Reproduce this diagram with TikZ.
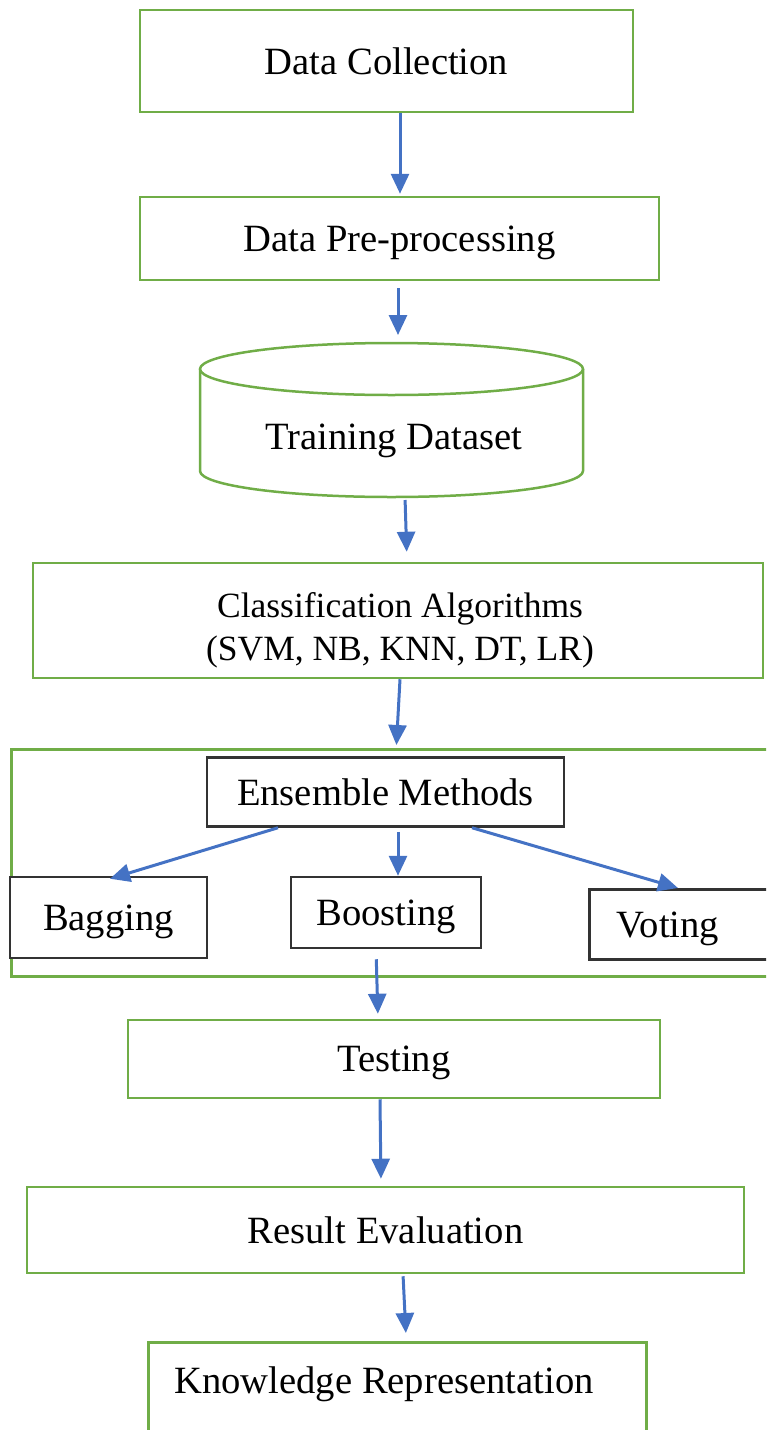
\documentclass[tikz,border=0pt]{standalone}
\usepackage{fontspec}
\setmainfont{Liberation Serif}
\usetikzlibrary{arrows.meta}
\definecolor{boxgreen}{HTML}{70AD47}
\definecolor{arrowblue}{HTML}{4472C4}
\begin{document}
\begin{tikzpicture}[x=1pt,y=-1pt,
  txt/.style={font=\fontsize{38.6}{46}\selectfont, inner sep=0pt, text depth=0pt},
  greenbox/.style={txt, draw=boxgreen, line width=2.5pt, fill=white},
  blackbox/.style={txt, draw=black!80, line width=2.5pt, fill=white},
  arr/.style={draw=arrowblue, line width=3pt, -{Triangle[length=20pt,width=18pt]}}]
\useasboundingbox (0,0) rectangle (766,1430);
\clip (0,0) rectangle (766,1430);

% main pipeline
\node[greenbox, minimum width=493pt, minimum height=102pt] (dc) at (386.5,61) {Data Collection};
\node[greenbox, minimum width=519pt, minimum height=83pt] (pre) at (399.5,238.5) {Data Pre-processing};

% training dataset drawn as a cylinder
\draw[boxgreen, line width=2.5pt, fill=white]
  (200,369) -- (200,471) arc[start angle=180, end angle=0, x radius=191.5, y radius=26]
  -- (583,369);
\draw[boxgreen, line width=2.5pt, fill=white] (391.5,369) ellipse[x radius=191.5, y radius=26];
\coordinate (cyltop) at (398,343);
\coordinate (cylbot) at (405,497);
\node[txt] (train) at (394,437) {Training Dataset};

\node[greenbox, minimum width=730pt, minimum height=115pt] (cls) at (398,620.5) {};
\node[txt, align=center, font=\fontsize{35.5}{43}\selectfont] (clstext) at (400,626)
  {Classification Algorithms\\(SVM, NB, KNN, DT, LR)};

% ensemble group
\node[draw=boxgreen, line width=2.5pt, anchor=north west, minimum width=800pt,
      minimum height=227pt, inner sep=0pt] (ens) at (10,748) {};
\node[blackbox, minimum width=357pt, minimum height=69pt] (em) at (385.5,792) {Ensemble Methods};
\node[blackbox, minimum width=197pt, minimum height=81pt] (bag) at (108.5,917.5) {Bagging};
\node[blackbox, minimum width=190pt, minimum height=71pt] (boost) at (386,912.5) {Boosting};
\node[blackbox, anchor=north west, minimum width=200pt, minimum height=70pt] (vote) at (588,888) {};
\node[txt] (votetext) at (668,925) {Voting};

\node[greenbox, minimum width=532pt, minimum height=78pt] (test) at (394,1059) {Testing};
\node[greenbox, minimum width=717pt, minimum height=86pt] (res) at (385.5,1230) {Result Evaluation};
\node[greenbox, anchor=north west, minimum width=498pt, minimum height=140pt] (know) at (147,1341) {};
\node[txt] (knowtext) at (384,1380) {Knowledge Representation};

% connectors
\draw[arr, shorten >=2pt] ([xshift=13.5pt]dc.south) -- ([xshift=0.5pt]pre.north);
\draw[arr, shorten <=7pt, shorten >=8pt] ([xshift=-1.5pt]pre.south) -- (cyltop);
\draw[arr, shorten <=3pt, shorten >=10pt] (cylbot) -- ([xshift=9pt]cls.north);
\draw[arr, shorten >=3pt] ([xshift=2pt]cls.south) -- ([xshift=-15pt]ens.north);
\draw[arr] ([xshift=-107.5pt]em.south) -- ([xshift=1.5pt,yshift=-3pt]bag.north);
\draw[arr, shorten <=4pt] ([xshift=12.5pt]em.south) -- ([xshift=12pt]boost.north);
\draw[arr] ([xshift=86.5pt]em.south) -- ([xshift=90pt]vote.north west);
\draw[arr, shorten <=10pt, shorten >=5pt] ([xshift=-10pt]boost.south) -- ([xshift=-16pt]test.north);
\draw[arr, shorten >=7pt] ([xshift=-14pt]test.south) -- ([xshift=-4.5pt]res.north);
\draw[arr, shorten <=2pt, shorten >=8pt] ([xshift=17.5pt]res.south) -- ([xshift=9pt]know.north);
\end{tikzpicture}
\end{document}
